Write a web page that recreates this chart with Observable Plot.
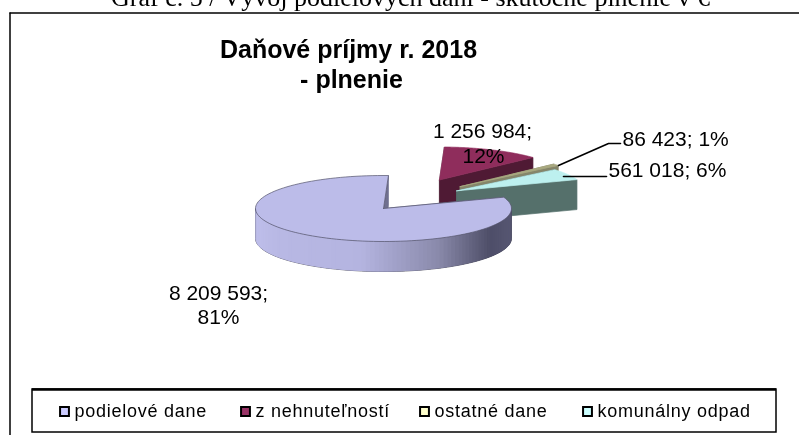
<!DOCTYPE html>
<html lang="sk">
<head>
<meta charset="utf-8">
<script src="https://cdn.jsdelivr.net/npm/d3@7"></script>
<script src="https://cdn.jsdelivr.net/npm/@observablehq/plot@0.6"></script>
<style>
html,body{margin:0;padding:0;background:#fff;overflow:hidden}
svg{display:block;filter:blur(.35px)}
svg g[font-size="18"]{letter-spacing:.75px}
</style>
</head>
<body>
<div id="chart"></div>
<script>
// ---- data
const categories = ["podielové dane", "z nehnuteľností", "ostatné dane", "komunálny odpad"];
const values = [8209593, 1256984, 86423, 561018];
const percents = [81, 12, 1, 6];
const valueLabels = ["8 209 593", "1 256 984", "86 423", "561 018"];
const chartTitle = ["Daňové príjmy r. 2018", "- plnenie"];
const caption = "Graf č. 5 / Vývoj podielových daní - skutočné plnenie v €";

// ---- styling and layout
const topColors = ["#bcbce9", "#8f2d5c", "#a9a981", "#bdf0ef"];
const wallColors = ["#70708f", "#4f1a34", "#85856a", "#55706b"];
const swatches = ["#ccccff", "#993366", "#ffffcc", "#ccffff"];
const explodeX = [0, 1.05, 0.8, 0.66];
const explodeY = [0, 0.95, 1, 1.07];
const center = {x: 383, y: 208}, rx = 128, ry = 33, depth = 30, startDeg = 70;
const W = 799, H = 435;

// ---- geometry from values
const arcs = d3.pie().sort(null).startAngle(startDeg * Math.PI / 180)
  .endAngle((startDeg + 360) * Math.PI / 180)(values);
const poly = [];
let pid = 0;
function add(pts, fill, stroke) {
  const id = pid++;
  [...pts, pts[0]].forEach(p => poly.push({id, x: p[0], y: p[1], fill, stroke: stroke || fill}));
}
const shade = d3.scaleLinear().domain([0, .1, .42, .72, .92, 1])
  .range(["#bebeea", "#b8b8e4", "#b4b4e0", "#8a8aab", "#4e4e68", "#565672"]);
function drawSlice(i) {
  const a = arcs[i], mid = (a.startAngle + a.endAngle) / 2;
  const ax = center.x + explodeX[i] * rx * Math.sin(mid);
  const ay = center.y - explodeY[i] * ry * Math.cos(mid);
  const rim = t => [ax + rx * Math.sin(t), ay - ry * Math.cos(t)];
  const down = p => [p[0], p[1] + depth];
  const apex = [ax, ay];
  const wall = (t, f) => { const r = rim(t); add([apex, r, down(r), down(apex)], f); };
  if (i === 1) wall(a.startAngle, "#7d7d7d");
  else wall(a.startAngle, wallColors[i]);
  wall(a.endAngle, wallColors[i]);
  // outer wall on the front half, shaded across its width
  const lo = Math.max(a.startAngle, Math.PI / 2), hi = Math.min(a.endAngle, 3 * Math.PI / 2);
  const n = 90;
  if (hi > lo) {
    const edge = [];
    for (let k = 0; k <= n; k++) edge.push(rim(lo + (hi - lo) * k / n));
    add([...edge, ...edge.slice().reverse().map(down)], "#3a3a4a", "#3a3a4a");
    for (let k = 0; k < n; k++) {
      const p0 = edge[k], p1 = edge[Math.min(n, k + 2)];
      const c = shade((p0[0] - ax + rx) / (2 * rx));
      add([p0, p1, down(p1), down(p0)], c, "none");
    }
  }
  // top face
  const face = [apex];
  for (let k = 0; k <= 120; k++) face.push(rim(a.startAngle + (a.endAngle - a.startAngle) * k / 120));
  add(face, topColors[i], i === 0 ? "#55556c" : topColors[i]);
}
[1, 2, 3, 0].forEach(drawSlice);

// ---- labels
const middleLabels = [
  {text: `${valueLabels[0]};`, x: 218, y: 293},
  {text: `${percents[0]}%`, x: 218, y: 317},
  {text: `${valueLabels[1]};`, x: 482, y: 131},
  {text: `${percents[1]}%`, x: 483, y: 156}
];
const startLabels = [
  {text: `${valueLabels[2]}; ${percents[2]}%`, x: 622, y: 139},
  {text: `${valueLabels[3]}; ${percents[3]}%`, x: 608, y: 170}
];
const leaders = [
  {id: 0, x: 558, y: 165}, {id: 0, x: 608, y: 143}, {id: 0, x: 620, y: 143},
  {id: 1, x: 563, y: 176}, {id: 1, x: 606, y: 176}
];
const legendSwatchX = [64, 245, 424, 587];
const legendRows = categories.map((c, i) => ({c, x: legendSwatchX[i], color: swatches[i]}));
const legendY = 411;
const titleX = [348, 351];
const titleY = [49, 79];

const chart = Plot.plot({
  width: W, height: H,
  margin: 0,
  x: {domain: [0, W], range: [0, W], axis: null},
  y: {domain: [0, H], range: [0, H], axis: null},
  color: {type: "identity"},
  style: {background: "#fff", overflow: "hidden"},
  marks: [
    Plot.text([caption], {x: () => 410, y: () => -3, text: d => d, fontFamily: "Liberation Serif", fontSize: 26, fill: "#000"}),
    Plot.ruleY([12.5], {x1: 9.5, x2: W, stroke: "#000", strokeWidth: 1.5}),
    Plot.ruleX([9.5], {y1: 12.5, y2: H, stroke: "#000", strokeWidth: 1.5}),
    Plot.text(chartTitle, {x: (d, i) => titleX[i], y: (d, i) => titleY[i], text: d => d, fontFamily: "Liberation Sans", fontWeight: "bold", fontSize: 25, fill: "#000"}),
    Plot.line(poly, {x: "x", y: "y", z: "id", fill: "fill", stroke: "stroke", strokeWidth: 0.7, curve: "linear"}),
    Plot.line(leaders, {x: "x", y: "y", z: "id", stroke: "#000", strokeWidth: 1.6, curve: "linear"}),
    Plot.text(middleLabels, {x: "x", y: "y", text: "text", fontFamily: "Liberation Sans", fontSize: 21, fill: "#000"}),
    Plot.text(startLabels, {x: "x", y: "y", text: "text", textAnchor: "start", fontFamily: "Liberation Sans", fontSize: 21, fill: "#000"}),
    Plot.rect([0], {x1: 32, x2: 776, y1: 389, y2: 432, fill: "#fff", stroke: "#000", strokeWidth: 1.5}),
    Plot.ruleY([389], {x1: 32, x2: 776, stroke: "#000", strokeWidth: 2.5}),
    Plot.dot(legendRows, {x: "x", y: () => legendY, symbol: "square", r: 5, fill: "color", stroke: "#000", strokeWidth: 2}),
    Plot.text(legendRows, {x: d => d.x + 10, y: () => legendY, text: "c", textAnchor: "start", fontFamily: "Liberation Sans", fontSize: 18, fill: "#000"})
  ]
});
document.getElementById("chart").append(chart);
</script>
</body>
</html>
